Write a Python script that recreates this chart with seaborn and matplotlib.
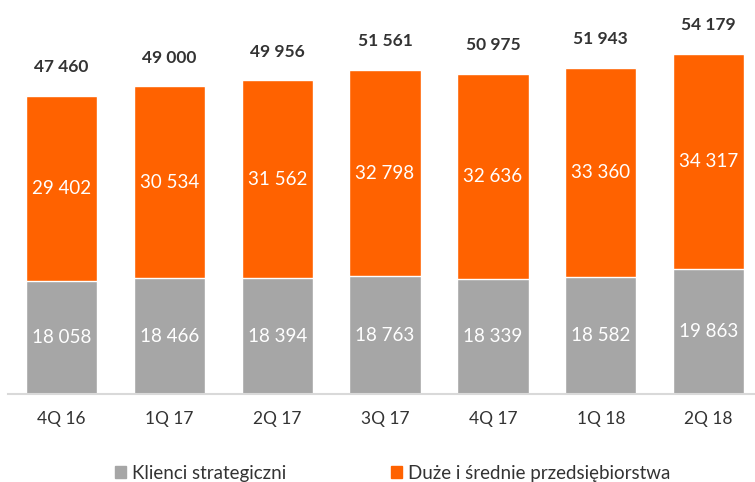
import pandas as pd
import matplotlib.pyplot as plt
import seaborn as sns
from matplotlib.patches import Patch

# Data
quarters = ['4Q 16', '1Q 17', '2Q 17', '3Q 17', '4Q 17', '1Q 18', '2Q 18']
strategic = [18058, 18466, 18394, 18763, 18339, 18582, 19863]
mid_large = [29402, 30534, 31562, 32798, 32636, 33360, 34317]
totals = [47460, 49000, 49956, 51561, 50975, 51943, 54179]

df = pd.DataFrame({'Quarter': quarters, 'Strategic': strategic,
                   'MidLarge': mid_large, 'Total': totals})

ORANGE = '#FF6200'
GRAY = '#A6A6A6'

sns.set_style('white')
plt.rcParams['font.family'] = ['Lato', 'DejaVu Sans']

fig = plt.figure(figsize=(7.55, 4.82), dpi=100)
ax = fig.add_axes([0.01, 0.1826, 0.99, 0.8174])

# stacked look: full total in orange, strategic part drawn over it in gray
sns.barplot(data=df, x='Quarter', y='Total', color=ORANGE, width=0.66,
            saturation=1, ax=ax)
sns.barplot(data=df, x='Quarter', y='Strategic', color=GRAY, width=0.66,
            saturation=1, ax=ax)

fmt = lambda v: f'{v:,}'.replace(',', ' ')
for i in range(len(quarters)):
    ax.text(i, strategic[i] / 2, fmt(strategic[i]), ha='center', va='center',
            color='white', fontsize=13.5)
    ax.text(i, strategic[i] + mid_large[i] / 2, fmt(mid_large[i]), ha='center',
            va='center', color='white', fontsize=13.5)
    ax.text(i, totals[i] + 3300, fmt(totals[i]), ha='center', va='bottom',
            color='#333333', fontsize=12.5, fontweight='bold')

ax.set_xlim(-0.5, 6.43)
ax.set_ylim(0, 62740)
ax.set_xlabel('')
ax.set_ylabel('')
ax.set_yticks([])
for s in ['top', 'right', 'left']:
    ax.spines[s].set_visible(False)
ax.spines['bottom'].set_color('#D9D9D9')
ax.spines['bottom'].set_linewidth(1.5)
ax.tick_params(axis='x', length=0, pad=12, labelsize=12.5, labelcolor='#333333')

handles = [Patch(color=GRAY, label='Klienci strategiczni'),
           Patch(color=ORANGE, label='Duże i średnie przedsiębiorstwa')]
fig.legend(handles=handles, loc='center', bbox_to_anchor=(0.52, 0.018), ncol=2,
           frameon=False, fontsize=13.5, handlelength=0.6, handleheight=0.6,
           handletextpad=0.3, columnspacing=5.6, labelcolor='#333333')

fig.savefig('out.png', dpi=100)
